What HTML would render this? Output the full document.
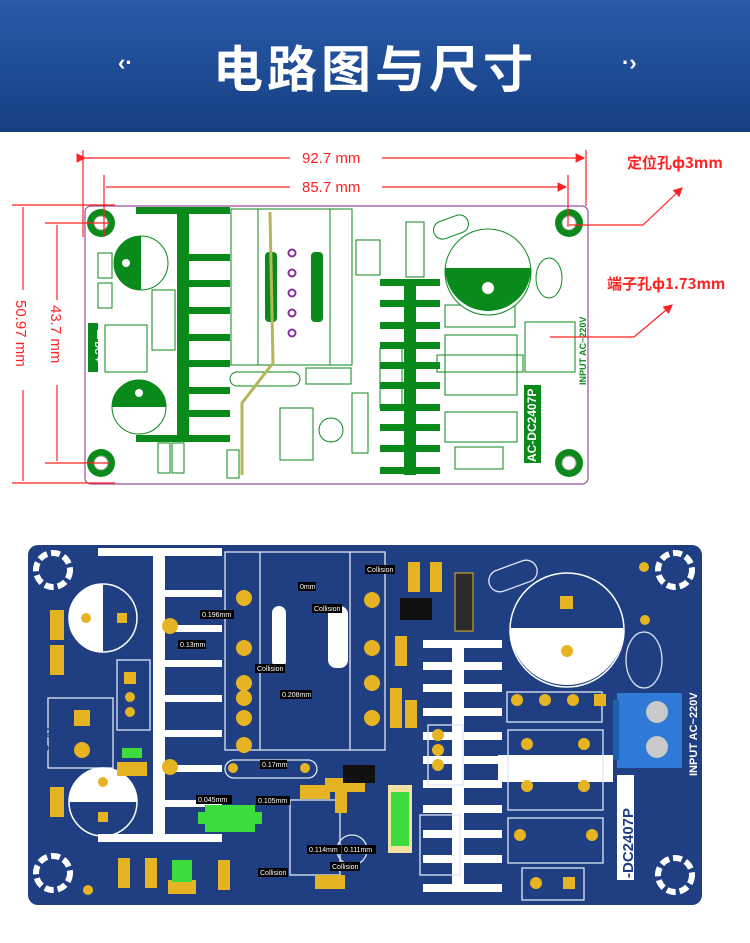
<!DOCTYPE html>
<html><head><meta charset="utf-8"><style>
html,body{margin:0;padding:0;background:#fff;}
body{width:750px;height:943px;position:relative;overflow:hidden;font-family:"Liberation Sans","Noto Sans CJK SC",sans-serif;}
.hdr{position:absolute;left:0;top:0;width:750px;height:132px;background:linear-gradient(180deg,#2a5aa8 0%,#1d4a92 60%,#173f80 100%);}
.hdr h1{position:absolute;left:0;width:750px;top:30px;margin:0;text-align:center;color:#fff;font-size:50px;font-weight:bold;letter-spacing:4px;font-family:"Noto Sans CJK SC",sans-serif;}
.hdr span{position:absolute;top:50px;color:#fff;font-size:22px;font-weight:bold;}
</style></head><body>
<div class="hdr"><span style="left:118px">‹·</span><h1>电路图与尺寸</h1><span style="left:622px">·›</span></div>

<svg width="750" height="943" style="position:absolute;left:0;top:0" xmlns="http://www.w3.org/2000/svg">
<defs>
<marker id="ar" markerWidth="8" markerHeight="8" refX="7" refY="4" orient="auto"><path d="M0,0 L8,4 L0,8z" fill="#f22"/></marker>
</defs>
<rect x="85" y="206" width="503" height="278" rx="6" fill="#fff" stroke="#9a4da0" stroke-width="1.2"/>
<g fill="#0a8a1a"><circle cx="101" cy="223" r="14"/><circle cx="569" cy="223" r="14"/><circle cx="101" cy="463" r="14"/><circle cx="569" cy="463" r="14"/></g>
<g fill="#fff" stroke="#999"><circle cx="101" cy="223" r="7"/><circle cx="569" cy="223" r="7"/><circle cx="101" cy="463" r="7"/><circle cx="569" cy="463" r="7"/></g>
<g fill="#0a8a1a">
<rect x="136" y="207" width="94" height="7"/><rect x="177" y="207" width="12" height="235"/><rect x="136" y="435" width="94" height="7"/>
<rect x="189" y="254" width="41" height="7"/><rect x="189" y="280" width="41" height="7"/><rect x="189" y="307" width="41" height="7"/><rect x="189" y="334" width="41" height="7"/><rect x="189" y="360" width="41" height="7"/><rect x="189" y="387" width="41" height="7"/><rect x="189" y="410" width="41" height="7"/>
<rect x="404" y="280" width="12" height="195"/>
<rect x="380" y="279" width="60" height="7"/><rect x="380" y="300" width="60" height="7"/><rect x="380" y="322" width="60" height="7"/><rect x="380" y="342" width="60" height="7"/><rect x="380" y="362" width="60" height="7"/><rect x="380" y="382" width="60" height="7"/><rect x="380" y="404" width="60" height="7"/><rect x="380" y="424" width="60" height="7"/><rect x="380" y="445" width="60" height="7"/><rect x="380" y="467" width="60" height="7"/>
<rect x="265" y="252" width="12" height="70" rx="4"/><rect x="311" y="252" width="12" height="70" rx="4"/>
<rect x="88" y="323" width="10" height="49"/>
<rect x="524" y="385" width="17" height="78"/>
</g>
<g fill="none" stroke="#0a8a1a" stroke-width="1">
<rect x="231" y="209" width="121" height="156"/><line x1="258" y1="209" x2="258" y2="365"/><line x1="330" y1="209" x2="330" y2="365"/>
<rect x="356" y="240" width="24" height="35"/><rect x="406" y="222" width="18" height="55"/>
<rect x="445" y="305" width="70" height="22"/><rect x="445" y="335" width="72" height="60"/><rect x="437" y="355" width="86" height="17"/>
<rect x="445" y="412" width="72" height="30"/><rect x="455" y="447" width="48" height="22"/>
<rect x="525" y="322" width="50" height="50"/><rect x="352" y="393" width="16" height="60"/><rect x="380" y="348" width="22" height="60"/>
<rect x="105" y="325" width="42" height="47"/><rect x="152" y="290" width="23" height="60"/><rect x="280" y="408" width="33" height="52"/>
<rect x="230" y="372" width="70" height="14" rx="7"/><rect x="306" y="368" width="45" height="16"/>
<rect x="433" y="218" width="36" height="18" rx="9" transform="rotate(-20 451 227)"/>
<rect x="158" y="443" width="12" height="30"/><rect x="172" y="443" width="12" height="30"/><rect x="227" y="450" width="12" height="28"/><rect x="98" y="253" width="14" height="25"/><rect x="98" y="283" width="14" height="25"/>
<circle cx="331" cy="430" r="12"/><ellipse cx="549" cy="278" rx="13" ry="20"/>
</g>
<circle cx="141" cy="263" r="27" fill="#fff" stroke="#0a8a1a"/><path d="M141,236 A27,27 0 0 0 141,290 Z" fill="#0a8a1a"/><circle cx="126" cy="263" r="4" fill="#fff"/>
<circle cx="139" cy="407" r="27" fill="#fff" stroke="#0a8a1a"/><path d="M112,407 A27,27 0 0 1 166,407 Z" fill="#0a8a1a"/><circle cx="139" cy="393" r="4" fill="#fff"/>
<circle cx="488" cy="272" r="43" fill="#fff" stroke="#0a8a1a"/><path d="M445,268 L531,268 A43,43 0 0 1 445,268 Z" fill="#0a8a1a"/><circle cx="488" cy="288" r="6" fill="#fff"/>
<g fill="none" stroke="#8a2aa8" stroke-width="2"><circle cx="292" cy="253" r="3.5"/><circle cx="292" cy="273" r="3.5"/><circle cx="292" cy="293" r="3.5"/><circle cx="292" cy="313" r="3.5"/><circle cx="292" cy="333" r="3.5"/></g>
<polyline points="270,212 273,363 242,403 242,475" fill="none" stroke="#b7b55a" stroke-width="3"/>
<text transform="translate(536,462) rotate(-90)" font-size="12" font-weight="bold" fill="#fff">AC-DC2407P</text>
<text transform="translate(586,385) rotate(-90)" font-size="9" font-weight="bold" fill="#0a8a1a">INPUT AC~220V</text>
<text transform="translate(95,330) rotate(90)" font-size="9" font-weight="bold" fill="#fff">— DC +</text>
<g stroke="#f22" stroke-width="1.2" fill="none">
<line x1="83" y1="150" x2="83" y2="237"/><line x1="586" y1="150" x2="586" y2="206"/>
<line x1="104" y1="175" x2="104" y2="237"/><line x1="568" y1="175" x2="568" y2="227"/>
<line x1="85" y1="158" x2="290" y2="158" marker-start="url(#ar)"/><line x1="382" y1="158" x2="584" y2="158" marker-end="url(#ar)"/>
<line x1="106" y1="187" x2="290" y2="187"/><line x1="382" y1="187" x2="566" y2="187" marker-end="url(#ar)"/>
<line x1="12" y1="205" x2="115" y2="205"/><line x1="12" y1="483" x2="115" y2="483"/>
<line x1="23" y1="207" x2="23" y2="290"/><line x1="23" y1="390" x2="23" y2="481"/>
<line x1="45" y1="223" x2="110" y2="223"/><line x1="45" y1="463" x2="110" y2="463"/>
<line x1="57" y1="225" x2="57" y2="300"/><line x1="57" y1="385" x2="57" y2="461"/>
<polyline points="569,225 643,225 682,188" marker-end="url(#ar)"/>
<polyline points="550,337 634,337 672,305" marker-end="url(#ar)"/>
</g>
<g fill="#f22" font-size="15">
<text x="302" y="163">92.7 mm</text><text x="302" y="192">85.7 mm</text>
<text transform="translate(16,300) rotate(90)">50.97 mm</text>
<text transform="translate(51,305) rotate(90)">43.7 mm</text>
</g>
<text x="627" y="168" fill="#f22" font-size="15" font-weight="bold" font-family="Noto Sans CJK SC,sans-serif">定位孔ф3mm</text>
<text x="607" y="289" fill="#f22" font-size="15" font-weight="bold" font-family="Noto Sans CJK SC,sans-serif">端子孔ф1.73mm</text>

<rect x="28" y="545" width="674" height="360" rx="10" fill="#1f3f82"/>
<g fill="#fff">
<rect x="98" y="548" width="124" height="8"/><rect x="153" y="548" width="12" height="294"/><rect x="98" y="834" width="124" height="8"/>
<rect x="165" y="590" width="57" height="7"/><rect x="165" y="625" width="57" height="7"/><rect x="165" y="660" width="57" height="7"/><rect x="165" y="695" width="57" height="7"/><rect x="165" y="730" width="57" height="7"/><rect x="165" y="765" width="57" height="7"/><rect x="165" y="800" width="57" height="7"/>
<rect x="452" y="648" width="12" height="244"/>
<rect x="423" y="640" width="79" height="8"/><rect x="423" y="662" width="79" height="8"/><rect x="423" y="684" width="79" height="8"/><rect x="423" y="708" width="79" height="8"/><rect x="423" y="732" width="79" height="8"/><rect x="423" y="756" width="79" height="8"/><rect x="423" y="780" width="79" height="8"/><rect x="423" y="805" width="79" height="8"/><rect x="423" y="830" width="79" height="8"/><rect x="423" y="855" width="79" height="8"/><rect x="423" y="884" width="79" height="8"/>
<rect x="272" y="606" width="14" height="62" rx="7"/><rect x="328" y="606" width="20" height="62" rx="8"/>
<rect x="498" y="755" width="115" height="27"/>
<rect x="617" y="775" width="17" height="105"/>
</g>
<g fill="none" stroke="#dfe6f3" stroke-width="1.3">
<rect x="225" y="552" width="160" height="198"/><line x1="260" y1="552" x2="260" y2="750"/><line x1="350" y1="552" x2="350" y2="750"/>
<rect x="48" y="698" width="65" height="70"/><rect x="117" y="660" width="33" height="70"/>
<rect x="507" y="692" width="95" height="30"/><rect x="508" y="730" width="95" height="80"/><rect x="508" y="818" width="95" height="45"/><rect x="522" y="868" width="62" height="32"/>
<rect x="420" y="815" width="40" height="60"/><rect x="428" y="725" width="35" height="60"/><rect x="290" y="800" width="50" height="75"/>
<rect x="225" y="760" width="92" height="18" rx="9"/>
<rect x="488" y="565" width="50" height="22" rx="11" transform="rotate(-20 513 576)"/>
<ellipse cx="644" cy="660" rx="18" ry="28"/><circle cx="352" cy="850" r="15"/>
</g>
<circle cx="103" cy="618" r="34" fill="none" stroke="#fff" stroke-width="1.5"/><path d="M103,584 A34,34 0 0 0 103,652 Z" fill="#fff"/>
<circle cx="103" cy="802" r="34" fill="none" stroke="#fff" stroke-width="1.5"/><path d="M69,802 A34,34 0 0 1 137,802 Z" fill="#fff"/>
<circle cx="567" cy="630" r="57" fill="none" stroke="#fff" stroke-width="1.5"/><path d="M510,628 L624,628 A57,57 0 0 1 510,628 Z" fill="#fff"/>
<g fill="none" stroke="#fff" stroke-width="6" stroke-dasharray="9 4"><circle cx="53" cy="570" r="17"/><circle cx="675" cy="570" r="17"/><circle cx="53" cy="873" r="17"/><circle cx="675" cy="875" r="17"/></g>
<g fill="#e6b422">
<circle cx="244" cy="598" r="8"/><circle cx="244" cy="648" r="8"/><circle cx="244" cy="698" r="8"/><circle cx="244" cy="745" r="8"/>
<circle cx="372" cy="600" r="8"/><circle cx="372" cy="648" r="8"/><circle cx="372" cy="683" r="8"/><circle cx="372" cy="718" r="8"/>
<circle cx="244" cy="683" r="8"/><circle cx="244" cy="718" r="8"/>
<circle cx="170" cy="626" r="8"/><circle cx="170" cy="767" r="8"/>
<rect x="74" y="710" width="16" height="16"/><circle cx="82" cy="750" r="8"/>
<rect x="124" y="672" width="12" height="12"/><circle cx="130" cy="697" r="5"/><circle cx="130" cy="712" r="5"/>
<circle cx="86" cy="618" r="5"/><rect x="117" y="613" width="10" height="10"/>
<circle cx="103" cy="782" r="5"/><rect x="98" y="812" width="10" height="10"/>
<rect x="560" y="596" width="13" height="13"/><circle cx="567" cy="651" r="6"/>
<circle cx="645" cy="620" r="5"/><circle cx="645" cy="700" r="5"/><circle cx="644" cy="567" r="5"/>
<circle cx="517" cy="700" r="6"/><circle cx="545" cy="700" r="6"/><circle cx="573" cy="700" r="6"/><rect x="594" y="694" width="12" height="12"/>
<circle cx="527" cy="744" r="6"/><circle cx="584" cy="744" r="6"/><circle cx="527" cy="786" r="6"/><circle cx="584" cy="786" r="6"/>
<circle cx="520" cy="835" r="6"/><circle cx="592" cy="835" r="6"/><circle cx="536" cy="883" r="6"/><rect x="563" y="877" width="12" height="12"/>
<circle cx="438" cy="750" r="6"/><circle cx="438" cy="735" r="6"/><circle cx="438" cy="765" r="6"/>
<circle cx="233" cy="768" r="5"/><circle cx="305" cy="768" r="5"/>
<rect x="408" y="562" width="12" height="30"/><rect x="430" y="562" width="12" height="30"/>
<rect x="395" y="636" width="12" height="30"/><rect x="390" y="688" width="12" height="40"/><rect x="405" y="700" width="12" height="28"/>
<rect x="50" y="610" width="14" height="30"/><rect x="50" y="645" width="14" height="30"/><rect x="50" y="787" width="14" height="30"/>
<rect x="117" y="762" width="30" height="14"/><rect x="300" y="785" width="30" height="14"/><rect x="335" y="785" width="12" height="28"/>
<rect x="118" y="858" width="12" height="30"/><rect x="145" y="858" width="12" height="30"/><rect x="168" y="880" width="28" height="14"/><rect x="218" y="860" width="12" height="30"/>
<rect x="315" y="875" width="30" height="14"/><rect x="325" y="778" width="40" height="14"/>
<circle cx="88" cy="890" r="5"/>
</g>
<g fill="#111"><rect x="400" y="598" width="32" height="22"/><rect x="343" y="765" width="32" height="18"/></g>
<rect x="455" y="573" width="18" height="58" fill="#2a2a2a" stroke="#e6b422"/>
<rect x="388" y="785" width="24" height="68" fill="#f2e2a0"/><rect x="391" y="792" width="18" height="54" fill="#3ddc3d"/>
<g fill="#3ddc3d"><rect x="205" y="805" width="50" height="27"/><rect x="198" y="812" width="8" height="12"/><rect x="254" y="812" width="8" height="12"/><rect x="122" y="748" width="20" height="10"/><rect x="172" y="860" width="20" height="22"/></g>
<rect x="617" y="693" width="65" height="75" fill="#2e7ad6"/><rect x="613" y="700" width="6" height="60" fill="#1e5fb0"/>
<circle cx="657" cy="712" r="11" fill="#c9c9c9"/><circle cx="657" cy="747" r="11" fill="#c9c9c9"/>
<text transform="translate(697,776) rotate(-90)" font-size="11" font-weight="bold" fill="#fff">INPUT AC~220V</text>
<text transform="translate(633,878) rotate(-90)" font-size="15" font-weight="bold" fill="#1f3f82">-DC2407P</text>
<text transform="translate(44,715) rotate(90)" font-size="10" font-weight="bold" fill="#1f3f82">— DC +</text>
<g font-size="7" fill="#fff">
<rect x="200" y="610" width="34" height="9" fill="#000"/><text x="202" y="617">0.196mm</text>
<rect x="178" y="640" width="28" height="9" fill="#000"/><text x="180" y="647">0.13mm</text>
<rect x="280" y="690" width="32" height="9" fill="#000"/><text x="282" y="697">0.208mm</text>
<rect x="260" y="760" width="27" height="9" fill="#000"/><text x="262" y="767">0.17mm</text>
<rect x="196" y="795" width="36" height="9" fill="#000"/><text x="198" y="802">0.045mm</text>
<rect x="256" y="796" width="34" height="9" fill="#000"/><text x="258" y="803">0.105mm</text>
<rect x="307" y="845" width="34" height="9" fill="#000"/><text x="309" y="852">0.114mm</text>
<rect x="342" y="845" width="34" height="9" fill="#000"/><text x="344" y="852">0.111mm</text>
<rect x="365" y="565" width="30" height="9" fill="#000"/><text x="367" y="572">Collision</text>
<rect x="312" y="604" width="30" height="9" fill="#000"/><text x="314" y="611">Collision</text>
<rect x="255" y="664" width="30" height="9" fill="#000"/><text x="257" y="671">Collision</text>
<rect x="258" y="868" width="30" height="9" fill="#000"/><text x="260" y="875">Collision</text>
<rect x="330" y="862" width="30" height="9" fill="#000"/><text x="332" y="869">Collision</text>
<rect x="298" y="582" width="18" height="9" fill="#000"/><text x="300" y="589">0mm</text>
</g>
</svg>
</body></html>
